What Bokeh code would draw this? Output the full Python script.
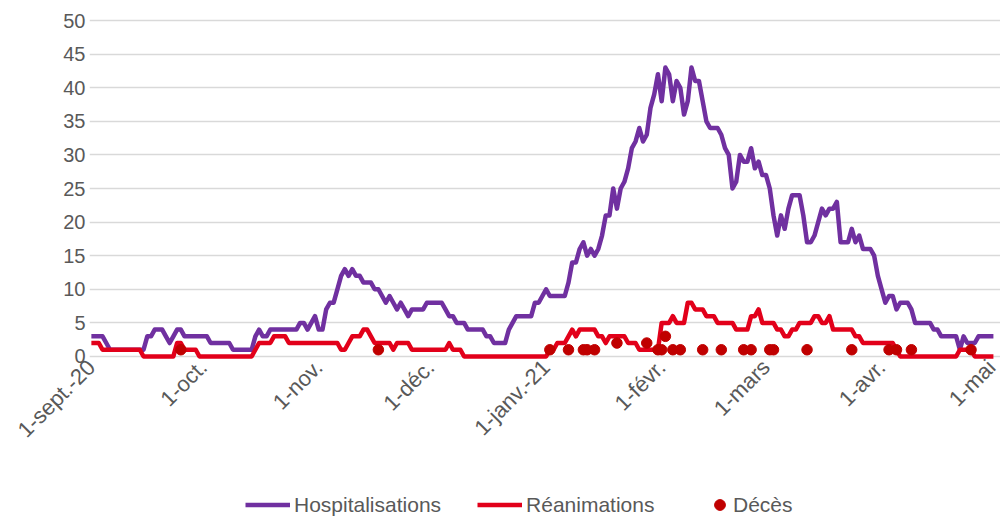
import math
from bokeh.plotting import figure
from bokeh.layouts import column
from bokeh.models import FixedTicker, Legend, LegendItem, Range1d
from bokeh.embed import file_html
from bokeh.resources import INLINE

# x positions are day indices counted from 1 Sept 2020
month_ticks = [0, 30, 61, 91, 122, 153, 181, 212, 242]
month_labels = ["1-sept.-20", "1-oct.", "1-nov.", "1-déc.", "1-janv.-21",
                "1-févr.", "1-mars", "1-avr.", "1-mai"]

hospitalisations = [
    3, 3, 3, 3, 2, 1, 1, 1, 1, 1,
    1, 1, 1, 1, 1, 3, 3, 4, 4, 4,
    3, 2, 3, 4, 4, 3, 3, 3, 3, 3,
    3, 3, 2, 2, 2, 2, 2, 2, 1, 1,
    1, 1, 1, 1, 3, 4, 3, 3, 4, 4,
    4, 4, 4, 4, 4, 4, 5, 5, 4, 5,
    6, 4, 4, 7, 8, 8, 10, 12, 13, 12,
    13, 12, 12, 11, 11, 11, 10, 10, 9, 8,
    9, 8, 7, 8, 7, 6, 7, 7, 7, 7,
    8, 8, 8, 8, 8, 7, 6, 6, 5, 5,
    5, 4, 4, 4, 4, 4, 3, 3, 2, 2,
    2, 2, 4, 5, 6, 6, 6, 6, 6, 8,
    8, 9, 10, 9, 9, 9, 9, 9, 11, 14,
    14, 16, 17, 15, 16, 15, 16, 18, 21, 21,
    25, 22, 25, 26, 28, 31, 32, 34, 32, 33,
    37, 39, 42, 38, 43, 42, 38, 41, 40, 36,
    38, 43, 41, 41, 38, 35, 34, 34, 34, 33,
    31, 30, 25, 26, 30, 29, 29, 31, 28, 29,
    27, 27, 25, 21, 18, 21, 19, 22, 24, 24,
    24, 21, 17, 17, 18, 20, 22, 21, 22, 22,
    23, 17, 17, 17, 19, 17, 18, 16, 16, 16,
    15, 12, 10, 8, 9, 9, 7, 8, 8, 8,
    7, 5, 5, 5, 5, 5, 4, 4, 3, 3,
    3, 3, 3, 1, 3, 2, 2, 2, 3, 3,
    3, 3, 3,
]

reanimations = [
    2, 2, 2, 1, 1, 1, 1, 1, 1, 1,
    1, 1, 1, 1, 0, 0, 0, 0, 0, 0,
    0, 0, 0, 2, 2, 1, 1, 1, 1, 0,
    0, 0, 0, 0, 0, 0, 0, 0, 0, 0,
    0, 0, 0, 0, 1, 2, 2, 2, 2, 3,
    3, 3, 3, 2, 2, 2, 2, 2, 2, 2,
    2, 2, 2, 2, 2, 2, 2, 1, 1, 2,
    3, 3, 3, 4, 4, 3, 2, 2, 2, 2,
    2, 1, 2, 2, 2, 2, 1, 1, 1, 1,
    1, 1, 1, 1, 1, 1, 2, 1, 1, 1,
    0, 0, 0, 0, 0, 0, 0, 0, 0, 0,
    0, 0, 0, 0, 0, 0, 0, 0, 0, 0,
    0, 0, 0, 1, 1, 2, 2, 2, 3, 4,
    3, 4, 4, 4, 4, 4, 3, 3, 2, 3,
    3, 3, 3, 3, 2, 2, 2, 1, 1, 1,
    1, 1, 1, 5, 5, 5, 6, 5, 5, 5,
    8, 8, 7, 7, 7, 6, 6, 6, 5, 5,
    5, 5, 5, 4, 4, 4, 4, 6, 6, 7,
    5, 5, 5, 5, 4, 4, 3, 3, 4, 4,
    5, 5, 5, 5, 6, 6, 5, 5, 6, 4,
    4, 4, 4, 4, 4, 3, 3, 2, 2, 2,
    2, 2, 2, 2, 2, 2, 1, 0, 0, 0,
    0, 0, 0, 0, 0, 0, 0, 0, 0, 0,
    0, 0, 0, 1, 1, 1, 1, 0, 0, 0,
    0, 0, 0,
]

deces_days = [24, 77, 123, 128, 132, 133, 135, 141, 149, 152, 153, 154, 156,
              158, 164, 169, 175, 177, 182, 183, 192, 204, 214, 216, 220, 236]
deces_values = [1, 1, 1, 1, 1, 1, 1, 2, 2, 1, 1, 3, 1,
                1, 1, 1, 1, 1, 1, 1, 1, 1, 1, 1, 1, 1]

y_ticks = [0, 5, 10, 15, 20, 25, 30, 35, 40, 45, 50]

days = list(range(len(hospitalisations)))

FONT = "Liberation Sans"
TXT = "#595959"
C_H = "#7030A0"
C_R = "#E2001A"
C_D = "#C00000"

p = figure(width=1000, height=485, output_backend="svg", toolbar_location=None,
           x_range=Range1d(-0.5, 243.9), y_range=Range1d(-0.6, 50.6),
           min_border_left=89, min_border_right=0, min_border_top=16,
           min_border_bottom=125)
p.outline_line_color = None
p.background_fill_color = "white"
p.border_fill_color = "white"

p.xgrid.grid_line_color = None
p.ygrid.grid_line_color = "#D9D9D9"
p.ygrid.grid_line_width = 1.3
p.ygrid.ticker = FixedTicker(ticks=y_ticks)

p.yaxis.ticker = FixedTicker(ticks=y_ticks)
p.yaxis.axis_line_color = None
p.yaxis.major_tick_line_color = None
p.yaxis.major_tick_out = 0
p.yaxis.major_tick_in = 0
p.yaxis.minor_tick_line_color = None
p.yaxis.major_label_text_font = FONT
p.yaxis.major_label_text_font_size = "20px"
p.yaxis.major_label_text_color = TXT
p.yaxis.major_label_standoff = 4

p.xaxis.ticker = FixedTicker(ticks=month_ticks)
p.xaxis.major_label_overrides = {t: l for t, l in zip(month_ticks, month_labels)}
p.xaxis.axis_line_color = None
p.xaxis.major_tick_line_color = None
p.xaxis.major_tick_out = 0
p.xaxis.major_tick_in = 0
p.xaxis.minor_tick_line_color = None
p.xaxis.major_label_text_font = FONT
p.xaxis.major_label_text_font_size = "22px"
p.xaxis.major_label_text_color = TXT
p.xaxis.major_label_orientation = math.pi / 4
p.xaxis.major_label_standoff = 3

p.line(days, hospitalisations, line_color=C_H, line_width=4.5, line_join="round")
p.line(days, reanimations, line_color=C_R, line_width=4.5, line_join="round")
p.scatter(deces_days, deces_values, size=10.5, color=C_D)

# legend strip below the chart (its frame is aligned with the chart frame);
# the series are drawn again here only as legend sources, outside the view
q = figure(width=1000, height=31, output_backend="svg", toolbar_location=None,
           x_range=Range1d(0, 1), y_range=Range1d(-30, -29),
           x_axis_location=None, y_axis_location=None,
           min_border_left=0, min_border_right=0, min_border_top=0,
           min_border_bottom=0)
q.outline_line_color = None
q.xgrid.grid_line_color = None
q.ygrid.grid_line_color = None
q.background_fill_color = "white"
q.border_fill_color = "white"
lh = q.line(days, hospitalisations, line_color=C_H, line_width=4.5)
lr = q.line(days, reanimations, line_color=C_R, line_width=4.5)
ld = q.scatter(deces_days, deces_values, size=10.5, color=C_D)

leg1 = Legend(items=[LegendItem(label="Hospitalisations", renderers=[lh]),
                     LegendItem(label="Réanimations", renderers=[lr])],
              orientation="horizontal", location=(156, -2))
leg2 = Legend(items=[LegendItem(label="Décès", renderers=[ld])],
              orientation="horizontal", location=(617, -2))
for lg in (leg1, leg2):
    lg.label_text_font = FONT
    lg.label_text_font_size = "21px"
    lg.label_text_color = TXT
    lg.border_line_color = None
    lg.background_fill_alpha = 0
    lg.padding = 0
    lg.margin = 0
    lg.spacing = 36
    lg.glyph_height = 27
    lg.label_height = 27
leg1.glyph_width = 45
leg1.label_standoff = 4
leg2.glyph_width = 27
leg2.label_standoff = 0
q.add_layout(leg1, "center")
q.add_layout(leg2, "center")

layout = column(p, q, spacing=0)
open("out.html", "w").write(file_html(layout, INLINE))
